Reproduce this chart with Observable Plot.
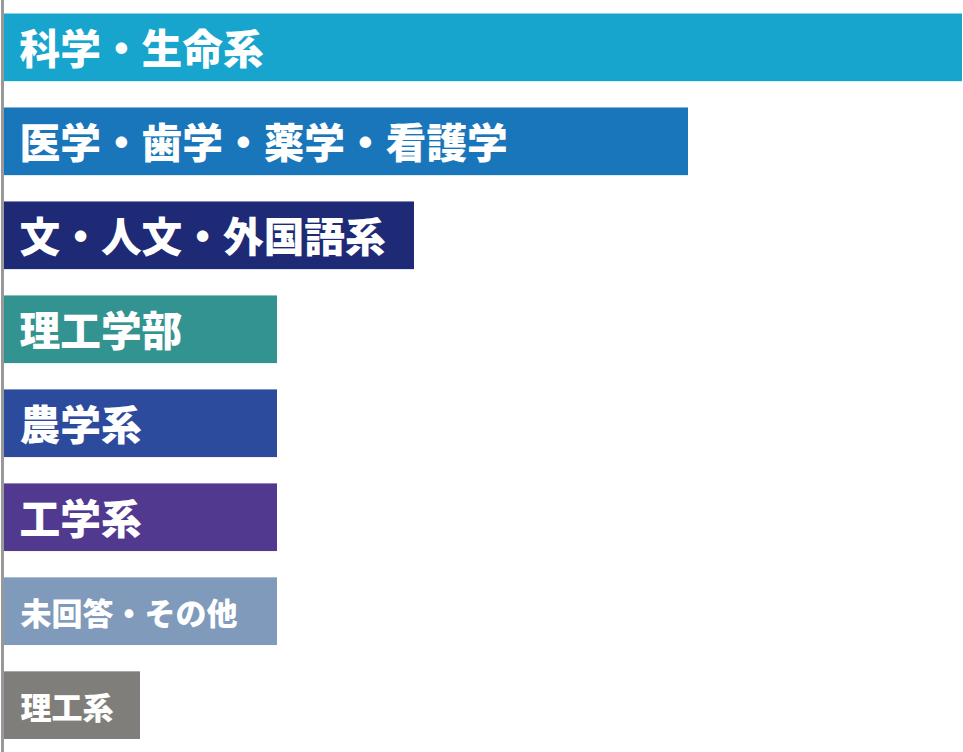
<!DOCTYPE html>
<html>
<head>
<meta charset="utf-8">
<script src="https://cdn.jsdelivr.net/npm/d3@7"></script>
<script src="https://cdn.jsdelivr.net/npm/@observablehq/plot@0.6"></script>
<style>
  html, body { margin: 0; padding: 0; background: #fff; }
  #chart svg { display: block; }
</style>
</head>
<body>
<div id="chart"></div>
<script>
const categories = ["科学・生命系", "医学・歯学・薬学・看護学", "文・人文・外国語系", "理工学部", "農学系", "工学系", "未回答・その他", "理工系"];
const values = [7, 5, 3, 2, 2, 2, 2, 1];
const colors = ["#17a4cd", "#1a76ba", "#1e2a75", "#329390", "#2c4b9d", "#523990", "#7f9aba", "#7f7e7a"];
const smallLabels = ["未回答・その他", "理工系"];

const data = categories.map((c, i) => ({category: c, value: values[i]}));

const chart = Plot.plot({
  width: 963,
  height: 752,
  marginLeft: 3,
  marginRight: 1,
  marginTop: 13.5,
  marginBottom: 13,
  style: {fontFamily: "'Noto Sans CJK JP', sans-serif", background: "#fff"},
  x: {domain: [0, 7], axis: null},
  y: {domain: categories, axis: null, paddingInner: 0.28, paddingOuter: 0, round: false},
  color: {domain: categories, range: colors},
  marks: [
    Plot.barX(data, {x: "value", y: "category", fill: "category"}),
    Plot.ruleX([0], {stroke: "#999", strokeWidth: 3, dx: -1, insetTop: -14, insetBottom: -14}),
    Plot.text(data.filter(d => !smallLabels.includes(d.category)), {
      x: 0, y: "category", text: "category", textAnchor: "start", dx: 16, dy: 3,
      fill: "white", fontSize: 40.7, fontWeight: 900
    }),
    Plot.text(data.filter(d => smallLabels.includes(d.category)), {
      x: 0, y: "category", text: "category", textAnchor: "start", dx: 17, dy: 3,
      fill: "white", fontSize: 31, fontWeight: 900
    })
  ]
});
document.getElementById("chart").appendChild(chart);
</script>
</body>
</html>
